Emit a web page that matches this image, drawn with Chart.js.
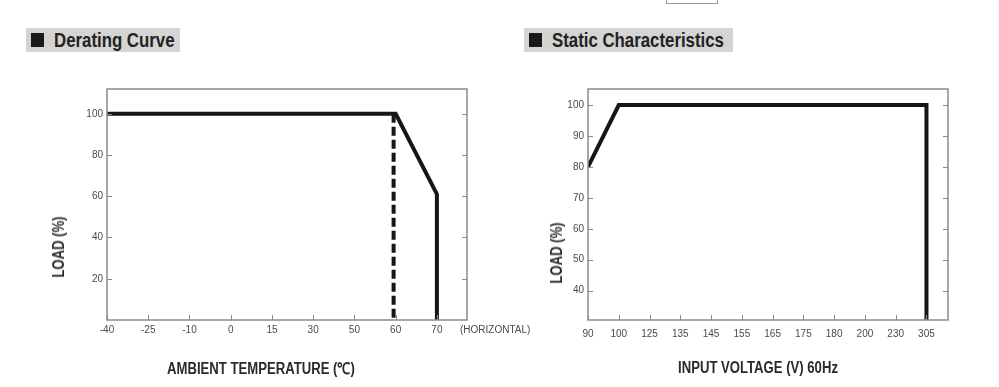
<!DOCTYPE html>
<html>
<head>
<meta charset="utf-8">
<script src="https://cdn.jsdelivr.net/npm/chart.js@4"></script>
<style>
  html, body { margin:0; padding:0; background:#fff; }
  body { width:999px; height:387px; position:relative; overflow:hidden; font-family:"Liberation Sans", Arial, sans-serif; }
  canvas { position:absolute; top:0; }
  .hdr { position:absolute; top:28px; height:24px; background:#d4d4d4; }
  .hdr .sq { position:absolute; left:5px; top:5px; width:13px; height:14px; background:#1a1a1a; }
  .hdr .tx { position:absolute; left:28px; top:0; line-height:24px; font-weight:bold; font-size:20.5px; color:#222; white-space:nowrap; transform:scaleX(0.82); transform-origin:left center; }
  .lbl { position:absolute; white-space:nowrap; transform:translate(-50%,-50%) scaleX(0.82); font-weight:bold; font-size:16px; color:#2a2a2a; }
  .rot { transform:translate(-50%,-50%) rotate(-90deg) scaleX(0.82); }
  .note { position:absolute; white-space:nowrap; font-size:10px; color:#4a4a4a; transform:translate(0,-50%); }
  .topbox { position:absolute; left:666px; top:-10px; width:50px; height:12px; border:1px solid #999; }
</style>
</head>
<body>
<div class="topbox"></div>
<div class="hdr" style="left:26px;width:154px;"><div class="sq"></div><div class="tx">Derating Curve</div></div>
<div class="hdr" style="left:524px;width:209px;"><div class="sq"></div><div class="tx">Static Characteristics</div></div>

<canvas id="derating" width="500" height="387" style="left:0"></canvas>
<canvas id="static" width="499" height="387" style="left:500px"></canvas>

<div class="lbl rot" style="left:59px;top:247px;">LOAD (%)</div>
<div class="lbl" style="left:261px;top:368px;">AMBIENT TEMPERATURE (℃)</div>
<div class="note" style="left:460px;top:329px;">(HORIZONTAL)</div>
<div class="lbl rot" style="left:557px;top:253px;">LOAD (%)</div>
<div class="lbl" style="left:758px;top:368px;">INPUT VOLTAGE (V) 60Hz</div>

<script>
// derating curve: x positions are indexes into the temperature tick list
var tempTicks = ['-40','-25','-10','0','15','30','50','60','70'];
var deratingPos = [0, 7, 8, 8];
var deratingLoad = [100, 100, 61, 0];
var limitPos = [6.95, 6.95];
var limitLoad = [100, 0];
var loadTicksLeft = [20, 40, 60, 80, 100];

// static characteristics: x positions are indexes into the voltage tick list
var voltTicks = ['90','100','125','135','145','155','165','175','180','200','230','305'];
var staticPos = [0, 1, 11, 11];
var staticLoad = [80, 100, 100, 30.5];
var loadTicksRight = [40, 50, 60, 70, 80, 90, 100];

function pts(xs, ys){
  return xs.map(function(x, i){ return { x: x, y: ys[i] }; });
}

// frame round the plot plus small inward tick marks
var framePlugin = {
  id: 'frame',
  afterDraw: function(chart){
    var a = chart.chartArea, ctx = chart.ctx;
    var xs = chart.scales.x, ys = chart.scales.y;
    ctx.save();
    ctx.strokeStyle = '#8a8a8a';
    ctx.lineWidth = 1.5;
    ctx.strokeRect(a.left, a.top, a.right - a.left, a.bottom - a.top);
    ctx.lineWidth = 1;
    ctx.beginPath();
    xs.ticks.forEach(function(t){
      var px = Math.round(xs.getPixelForValue(t.value)) + 0.5;
      ctx.moveTo(px, a.bottom); ctx.lineTo(px, a.bottom - 5);
    });
    ys.ticks.forEach(function(t){
      var py = Math.round(ys.getPixelForValue(t.value)) + 0.5;
      ctx.moveTo(a.left, py); ctx.lineTo(a.left + 5, py);
      ctx.moveTo(a.right, py); ctx.lineTo(a.right - 5, py);
    });
    ctx.stroke();
    ctx.restore();
  }
};

function makeChart(el, cfg){
  var tickFont = { family: '"Liberation Sans", Arial, sans-serif', size: 10 };
  return new Chart(el.getContext('2d'), {
    type: 'scatter',
    data: { datasets: cfg.datasets },
    options: {
      responsive: false,
      animation: false,
      layout: { padding: cfg.padding },
      plugins: { legend: { display: false }, tooltip: { enabled: false } },
      scales: {
        x: {
          type: 'linear', min: 0, max: cfg.xMax,
          grid: { display: false, drawTicks: false },
          border: { display: false },
          afterBuildTicks: function(s){ s.ticks = cfg.xLabels.map(function(l, i){ return { value: i }; }); },
          afterFit: function(s){ s.height = 30; },
          ticks: { color: '#4a4a4a', font: tickFont, padding: cfg.xPad, autoSkip: false, maxRotation: 0,
                   callback: function(v){ return cfg.xLabels[v]; } }
        },
        y: {
          type: 'linear', min: cfg.yMin, max: cfg.yMax,
          grid: { display: false, drawTicks: false },
          border: { display: false },
          afterBuildTicks: function(s){ s.ticks = cfg.yTicks.map(function(v){ return { value: v }; }); },
          afterFit: function(s){ s.width = cfg.yWidth; },
          ticks: { color: '#4a4a4a', font: tickFont, padding: 4 }
        }
      }
    },
    plugins: [framePlugin]
  });
}

document.addEventListener('DOMContentLoaded', function(){
  makeChart(document.getElementById('derating'), {
    xLabels: tempTicks, xMax: 8.73, yMin: 0, yMax: 112, yTicks: loadTicksLeft,
    yWidth: 107, xPad: 4, padding: { left: 0, top: 89, right: 33, bottom: 37 },
    datasets: [
      { data: pts(deratingPos, deratingLoad), showLine: true, pointRadius: 0, borderColor: '#161616', borderWidth: 4, borderJoinStyle: 'miter' },
      { data: pts(limitPos, limitLoad), showLine: true, pointRadius: 0, borderColor: '#161616', borderWidth: 4, borderDash: [9, 4] }
    ]
  });

  makeChart(document.getElementById('static'), {
    xLabels: voltTicks, xMax: 11.7, yMin: 30.5, yMax: 105.2, yTicks: loadTicksRight,
    yWidth: 88, xPad: 8, padding: { left: 0, top: 89, right: 51, bottom: 37 },
    datasets: [
      { data: pts(staticPos, staticLoad), showLine: true, pointRadius: 0, borderColor: '#161616', borderWidth: 4, borderJoinStyle: 'miter' }
    ]
  });
});
</script>
</body>
</html>
